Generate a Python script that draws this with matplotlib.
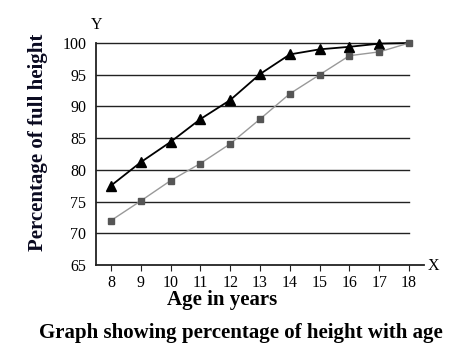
import matplotlib
matplotlib.use("Agg")
import matplotlib.pyplot as plt

ages = [8, 9, 10, 11, 12, 13, 14, 15, 16, 17, 18]
girls = [77.5, 81.2, 84.4, 88.0, 91.0, 95.1, 98.2, 99.0, 99.4, 99.9, 100.0]
boys = [72.0, 75.1, 78.3, 81.0, 84.1, 88.0, 92.0, 95.0, 98.0, 98.6, 100.0]
yticks = [65, 70, 75, 80, 85, 90, 95, 100]

plt.rcParams['font.family'] = ['Liberation Serif', 'DejaVu Serif']

W, H = 457, 361
fig = plt.figure(figsize=(W/100, H/100), dpi=100)
x0, x1, y0, y1 = 96, 424, 43, 265
ax = fig.add_axes([x0/W, 1 - y1/H, (x1-x0)/W, (y1-y0)/H])
ax.set_xlim(7.5, 18.5)
ax.set_ylim(65, 100)

for v in yticks[1:]:
    ax.plot([7.5, 18], [v, v], color='#222222', lw=1.0, zorder=1, clip_on=False)

ax.plot(ages, girls, color='black', lw=1.3, marker='^', markersize=7.5,
        markevery=list(range(len(ages) - 1)),
        markerfacecolor='black', markeredgecolor='black', zorder=3, clip_on=False)
ax.plot(ages, boys, color='#999999', lw=1.0, marker='s', markersize=5,
        markerfacecolor='#555555', markeredgecolor='#555555', zorder=4, clip_on=False)

for s in ['top', 'right']:
    ax.spines[s].set_visible(False)
for s in ['left', 'bottom']:
    ax.spines[s].set_linewidth(1.3)
    ax.spines[s].set_color('#222222')

ax.set_xticks(ages)
ax.set_xticklabels([str(a) for a in ages], fontsize=11.5)
ax.set_yticks(yticks)
ax.set_yticklabels([str(v) for v in yticks], fontsize=11.5)
ax.tick_params(axis='x', length=4, direction='out', pad=3, color='#222222')
ax.tick_params(axis='y', length=0, pad=7)

fig.text(97/W, 1 - 25/H, 'Y', fontsize=11.5, ha='center', va='center')
fig.text(433/W, 1 - 266/H, 'X', fontsize=11.5, ha='center', va='center')
fig.text(222/W, 1 - 300/H, 'Age in years', fontsize=15, fontweight='bold', ha='center', va='center')
fig.text(38/W, 1 - 142/H, 'Percentage of full height', fontsize=15, fontweight='bold',
         ha='center', va='center', rotation=90, color='#0a0a20')
fig.text(241/W, 1 - 333/H, 'Graph showing percentage of height with age', fontsize=15,
         fontweight='bold', ha='center', va='center')

fig.savefig('out.png', dpi=100)
